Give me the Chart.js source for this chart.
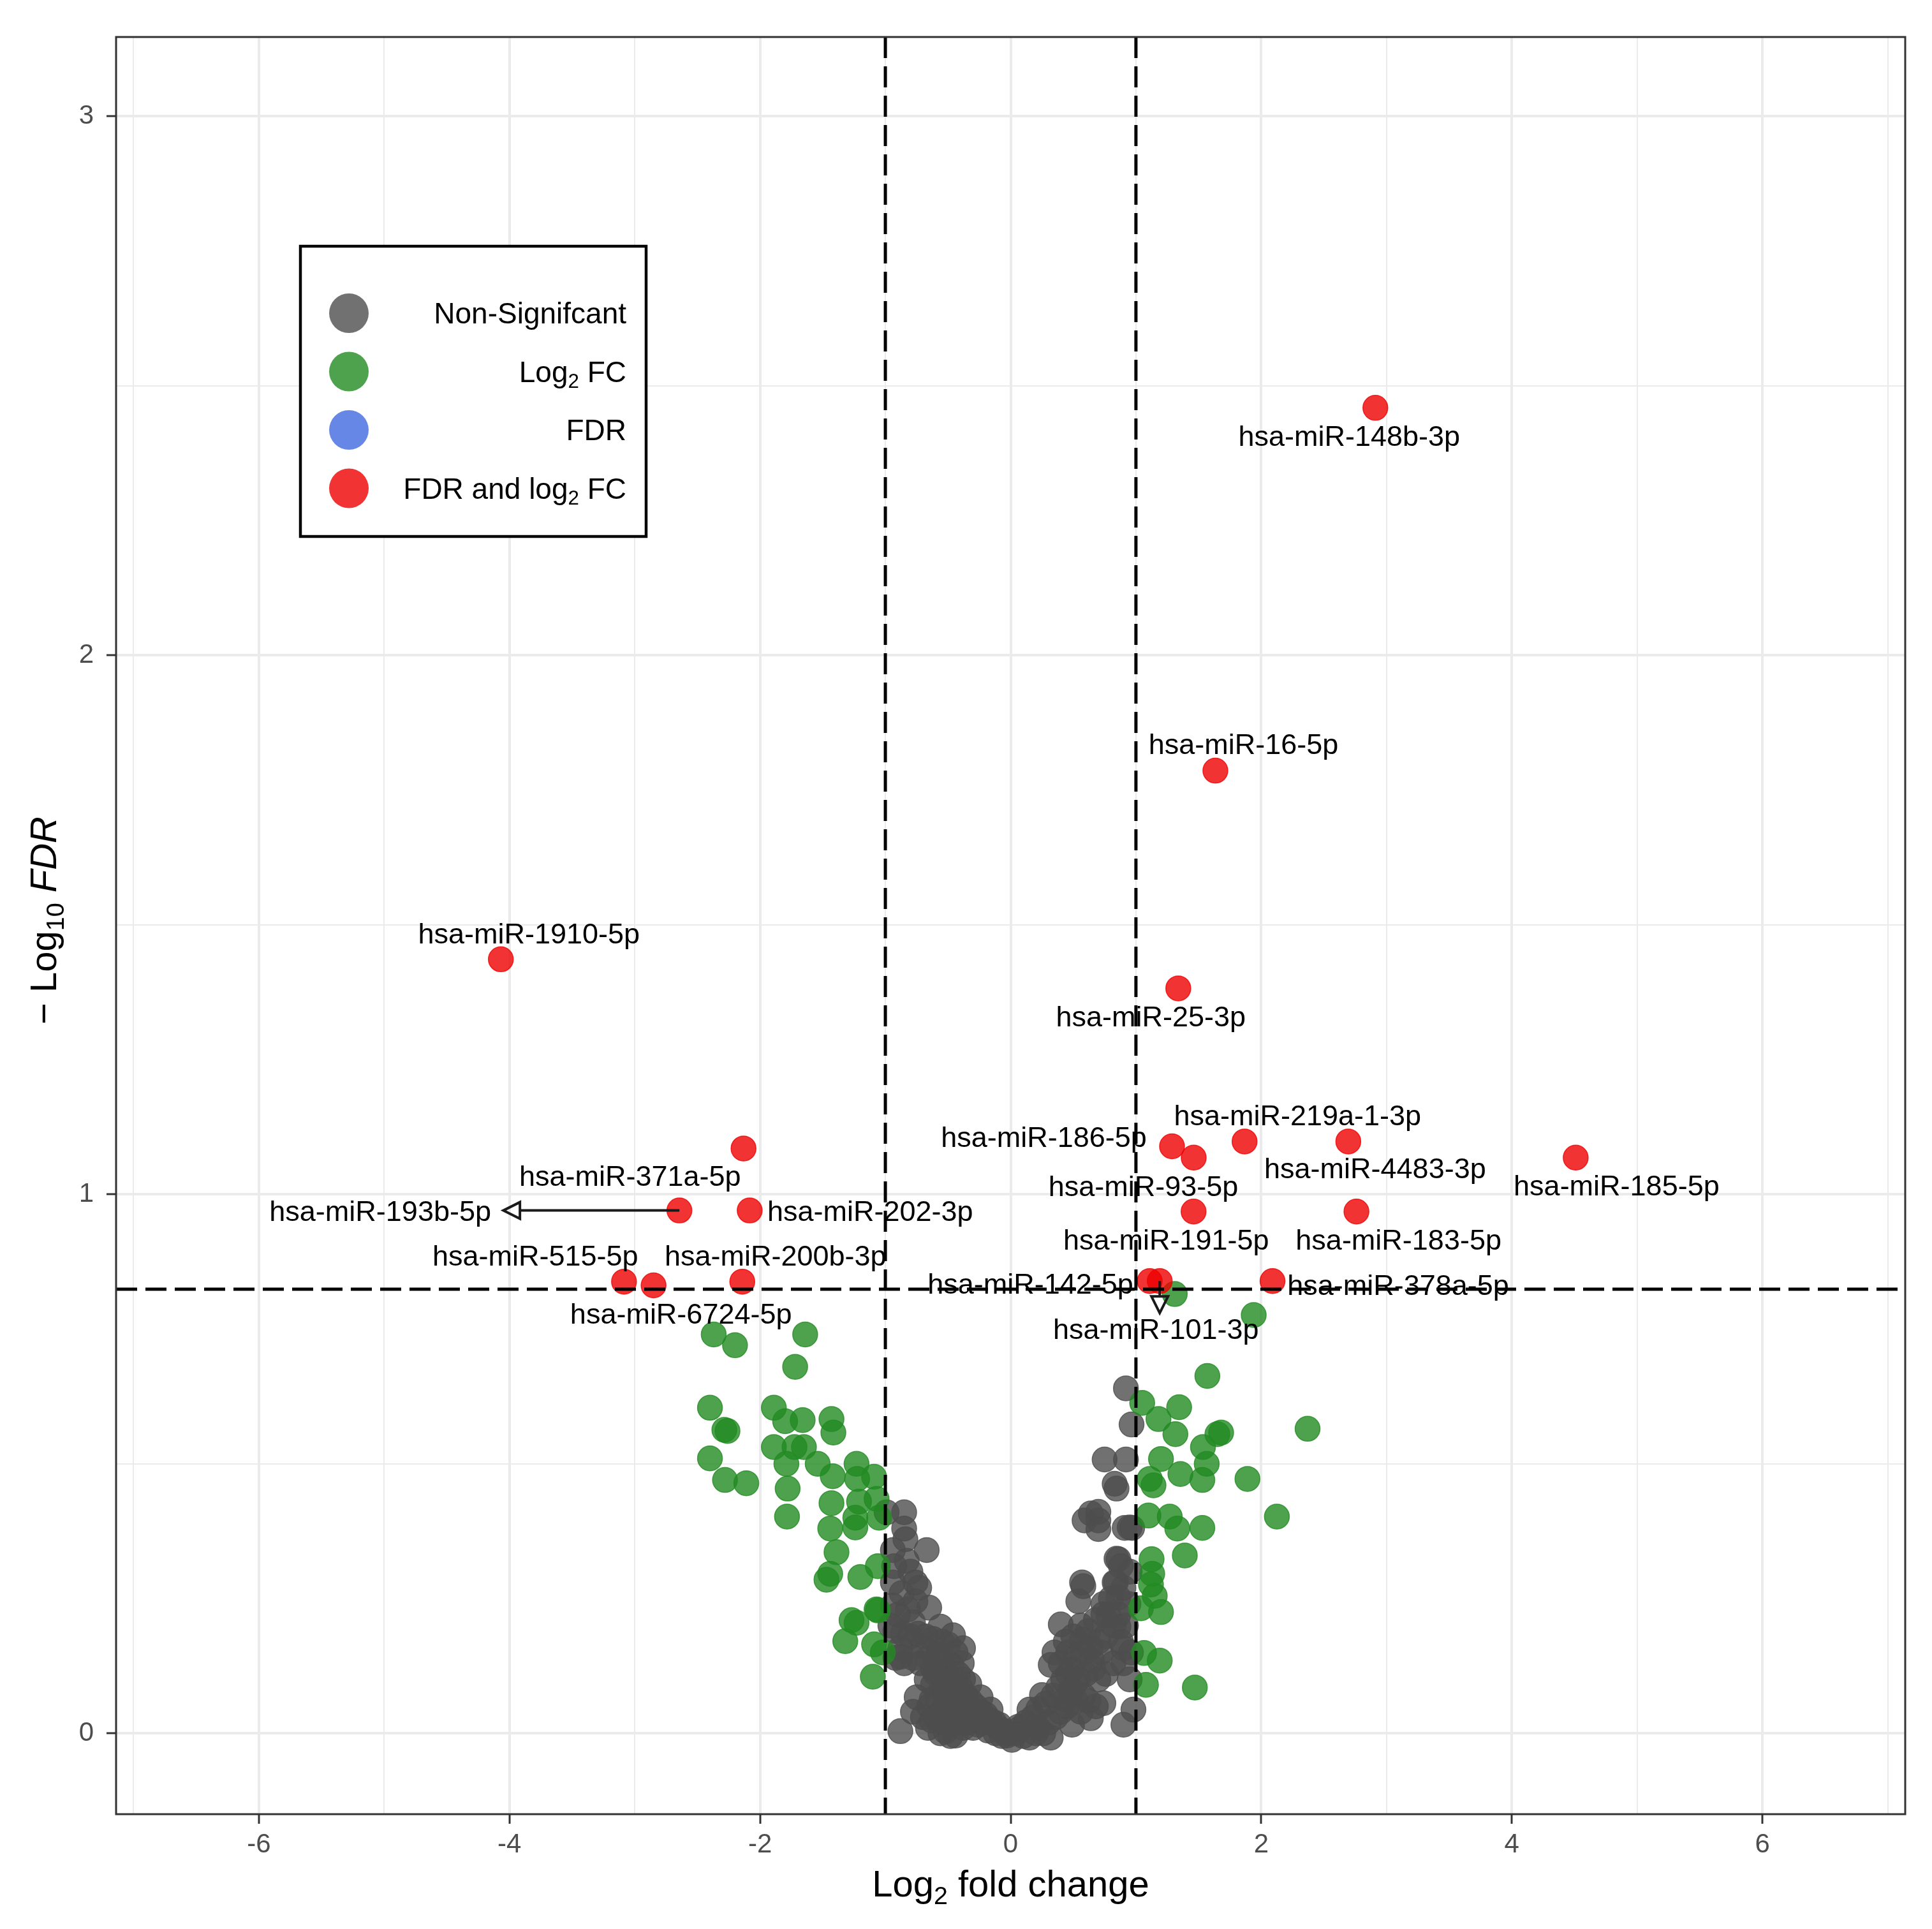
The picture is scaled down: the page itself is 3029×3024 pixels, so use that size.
<!DOCTYPE html>
<html>
<head>
<script src="https://cdn.jsdelivr.net/npm/chart.js"></script>
<style>
  html, body { margin: 0; padding: 0; background: #fff; }
  #wrap { width: 3029px; height: 3024px; }
</style>
</head>
<body>
<div id="wrap"><canvas id="chart" width="3029" height="3024"></canvas></div>
<script>
// ---- data ----
const xGrid = [-7, -6, -5, -4, -3, -2, -1, 0, 1, 2, 3, 4, 5, 6, 7];
const xTickLabels = [-6, -4, -2, 0, 2, 4, 6];
const yGrid = [0, 0.5, 1, 1.5, 2, 2.5, 3];
const yTickLabels = [0, 1, 2, 3];

const fcCut = 1;        // |log2 FC| cutoff
const fdrCut = 0.824;   // -log10(FDR) cutoff

// non-significant [log2FC, -log10 FDR]
const greyPoints = [
  [-0.99,0.41],[-0.85,0.41],[-0.85,0.38],[-0.67,0.34],[-0.94,0.34],[-0.83,0.32],[-0.84,0.36],
  [-0.94,0.28],[-0.73,0.27],[-0.76,0.245],[-0.65,0.233],[-0.94,0.237],[-0.78,0.206],[-0.56,0.198],
  [-0.46,0.182],[-0.38,0.158],[-0.88,0.158],[-0.88,0.142],[-0.70,0.162],[-0.58,0.146],[-0.39,0.13],
  [-0.60,0.111],[-0.48,0.103],[-0.33,0.091],[-0.75,0.067],[-0.78,0.04],[-0.63,0.063],[-0.52,0.056],
  [-0.41,0.063],[-0.24,0.067],[-0.16,0.044],[-0.88,0.004],[-0.52,0.004],[-0.44,-0.004],[-0.26,0.016],
  [-0.09,0.016],[-0.03,-0.004],[-0.63,0.024],[-0.33,0.036],
  [-0.92,0.19],[-0.86,0.185],[-0.80,0.18],[-0.74,0.185],[-0.68,0.18],[-0.62,0.175],[-0.55,0.17],
  [-0.50,0.165],[-0.44,0.15],[-0.92,0.14],[-0.85,0.13],[-0.78,0.14],[-0.72,0.13],[-0.66,0.14],
  [-0.60,0.135],[-0.54,0.13],[-0.47,0.125],[-0.42,0.11],[-0.67,0.10],[-0.62,0.09],[-0.55,0.085],
  [-0.50,0.08],[-0.45,0.075],[-0.40,0.085],[-0.36,0.07],[-0.32,0.06],[-0.28,0.05],[-0.24,0.04],
  [-0.20,0.035],[-0.17,0.025],[-0.13,0.02],[-0.10,0.01],[-0.06,0.005],[-0.02,0.0],[-0.58,0.06],
  [-0.54,0.04],[-0.48,0.03],[-0.42,0.02],[-0.38,0.01],[-0.34,0.02],[-0.30,0.01],[-0.22,0.02],
  [-0.18,0.005],[-0.12,0.0],[-0.07,-0.005],[-0.70,0.03],[-0.66,0.01],[-0.56,0.0],[-0.48,-0.005],
  [-0.96,0.20],[-0.90,0.22],[-0.82,0.23],[-0.87,0.26],[-0.80,0.30],[-0.93,0.31],[-0.76,0.28],
  [-0.65,0.05],[-0.60,0.03],[-0.52,0.02],[-0.45,0.045],[-0.36,0.045],[-0.28,0.03],[-0.62,0.12],
  [-0.56,0.11],[-0.50,0.10],[-0.44,0.095],[-0.38,0.10],[-0.30,0.04],
  [0.92,0.64],[0.965,0.573],[0.75,0.508],[0.92,0.508],[0.83,0.463],[0.64,0.408],[0.70,0.395],
  [0.95,0.382],[0.86,0.323],[0.845,0.454],[0.59,0.395],[0.70,0.411],[0.70,0.379],[0.91,0.381],
  [0.97,0.381],[0.845,0.324],[0.58,0.273],[0.54,0.245],[0.57,0.28],[0.83,0.28],[0.86,0.252],
  [0.95,0.30],[0.40,0.202],[0.74,0.221],[0.86,0.198],[0.57,0.174],[0.35,0.15],[0.32,0.127],
  [0.90,0.158],[0.90,0.13],[0.65,0.135],[0.49,0.119],[0.52,0.095],[0.74,0.056],[0.25,0.071],
  [0.15,0.044],[0.06,0.012],[0.32,-0.008],[0.49,0.016],[0.64,0.028],[0.98,0.044],[0.90,0.016],
  [0.44,0.063],[0.01,-0.012],[0.15,-0.008],
  [0.04,0.0],[0.08,0.01],[0.12,0.02],[0.18,0.03],[0.22,0.045],[0.28,0.055],[0.34,0.07],
  [0.38,0.085],[0.42,0.10],[0.46,0.11],[0.22,0.01],[0.26,0.0],[0.30,0.02],[0.36,0.03],
  [0.40,0.04],[0.45,0.05],[0.52,0.06],[0.58,0.07],[0.62,0.06],[0.68,0.05],
  [0.40,0.13],[0.46,0.15],[0.52,0.14],[0.58,0.15],[0.64,0.16],[0.70,0.17],[0.76,0.18],
  [0.82,0.20],[0.86,0.22],[0.44,0.17],[0.50,0.18],[0.56,0.20],[0.62,0.19],[0.68,0.21],
  [0.74,0.24],[0.80,0.25],[0.84,0.28],[0.78,0.22],[0.72,0.15],[0.66,0.12],[0.60,0.11],
  [0.54,0.10],[0.70,0.10],[0.76,0.11],[0.82,0.13],[0.88,0.17],[0.92,0.20],[0.94,0.24],
  [0.90,0.27],[0.88,0.31],[0.56,0.04],[0.48,0.08],[0.10,-0.005],[0.20,0.0],[0.95,0.10],[0.96,0.15]
];

// |log2FC| > 1 only
const greenPoints = [
  [-2.37,0.74],[-2.20,0.72],[-1.64,0.74],[-1.72,0.68],[-2.40,0.604],[-2.285,0.563],[-2.26,0.561],
  [-1.89,0.604],[-1.80,0.579],[-1.66,0.581],[-1.43,0.583],[-1.415,0.558],[-2.40,0.51],[-2.28,0.47],
  [-2.11,0.464],[-1.89,0.531],[-1.725,0.531],[-1.65,0.531],[-1.79,0.50],[-1.78,0.454],[-1.785,0.402],
  [-1.54,0.50],[-1.42,0.477],[-1.23,0.50],[-1.225,0.472],[-1.09,0.476],[-1.43,0.427],[-1.21,0.43],
  [-1.07,0.435],[-1.24,0.40],[-1.05,0.40],[-1.24,0.382],[-1.44,0.38],[-1.39,0.336],[-1.44,0.296],
  [-1.47,0.285],[-1.20,0.29],[-1.06,0.31],[-1.06,0.228],[-1.23,0.205],[-1.32,0.171],[-1.09,0.165],
  [-1.10,0.105],[-1.02,0.15],[-1.27,0.21],[-1.07,0.23],
  [1.94,0.776],[1.57,0.663],[1.05,0.613],[1.345,0.605],[1.18,0.583],[1.315,0.555],[1.68,0.558],
  [1.535,0.531],[2.37,0.565],[1.20,0.509],[1.565,0.50],[1.11,0.472],[1.355,0.481],[1.53,0.47],
  [1.89,0.472],[1.10,0.404],[1.27,0.402],[1.33,0.38],[1.53,0.381],[2.125,0.402],[1.39,0.33],
  [1.125,0.323],[1.13,0.296],[1.15,0.255],[1.04,0.232],[1.20,0.225],[1.065,0.149],[1.19,0.135],
  [1.08,0.09],[1.47,0.085],[1.31,0.815],[1.12,0.276],[1.65,0.555],[1.14,0.46]
];
const bluePoints = [];

// FDR and log2 FC
const redNames = [
  'hsa-miR-148b-3p', 'hsa-miR-16-5p', 'hsa-miR-1910-5p', 'hsa-miR-25-3p', 'hsa-miR-219a-1-3p',
  'hsa-miR-4483-3p', 'hsa-miR-186-5p', 'hsa-miR-93-5p', 'hsa-miR-185-5p', 'hsa-miR-371a-5p',
  'hsa-miR-193b-5p', 'hsa-miR-202-3p', 'hsa-miR-191-5p', 'hsa-miR-183-5p', 'hsa-miR-515-5p',
  'hsa-miR-6724-5p', 'hsa-miR-200b-3p', 'hsa-miR-142-5p', 'hsa-miR-101-3p', 'hsa-miR-378a-5p'
];
const redFC = [2.911, 1.634, -4.069, 1.338, 1.867, 2.695, 1.288, 1.461, 4.51, -2.132,
               -2.644, -2.083, 1.46, 2.76, -3.086, -2.85, -2.142, 1.11, 1.19, 2.09];
const redFDR = [2.459, 1.786, 1.436, 1.382, 1.098, 1.098, 1.089, 1.068, 1.068, 1.085,
                0.970, 0.970, 0.968, 0.968, 0.838, 0.831, 0.838, 0.839, 0.839, 0.839];

// label placement (pixel offsets from the point) and arrow tips
const labelOffsets = [
  [-41, 44], [44, -42], [44, -41], [-43, 44], [83, -41],
  [42, 42], [-201, -15], [-79, 44], [64, 43], [-178, 43],
  [-469, 0], [189, 0], [-43, 44], [66, 44], [-139, -41],
  [43, 44], [52, -41], [-187, 4], [-6, 75], [197, 6]
];
const arrowTips = { 10: [-276, 0], 18: [0, 50] };

const colGrey = 'rgba(77,77,77,0.8)';
const colGreen = 'rgba(34,139,34,0.8)';
const colBlue = 'rgba(65,105,225,0.8)';
const colRed = 'rgba(238,0,0,0.8)';
const FONT = '"Liberation Sans", Arial, Helvetica, sans-serif';

const toXY = pts => pts.map(p => ({ x: p[0], y: p[1] }));

// draw text made of segments (normal / subscript / italic)
function richWidth(ctx, segs, size) {
  let w = 0;
  segs.forEach(s => {
    const fs = s.sub ? size * 0.68 : size;
    ctx.font = (s.italic ? 'italic ' : '') + fs + 'px ' + FONT;
    w += ctx.measureText(s.t).width;
  });
  return w;
}
function drawRich(ctx, segs, x, y, size) {
  let cx = x;
  segs.forEach(s => {
    const fs = s.sub ? size * 0.68 : size;
    ctx.font = (s.italic ? 'italic ' : '') + fs + 'px ' + FONT;
    ctx.fillText(s.t, cx, s.sub ? y + size * 0.2 : y);
    cx += ctx.measureText(s.t).width;
  });
}

const legendItems = [
  { col: colGrey, segs: [{ t: 'Non-Signifcant' }] },
  { col: colGreen, segs: [{ t: 'Log' }, { t: '2', sub: true }, { t: ' FC' }] },
  { col: colBlue, segs: [{ t: 'FDR' }] },
  { col: colRed, segs: [{ t: 'FDR and log' }, { t: '2', sub: true }, { t: ' FC' }] }
];

const decor = {
  id: 'decor',
  afterDatasetsDraw(chart) {
    const { ctx, scales: { x, y }, chartArea: a } = chart;
    ctx.save();
    // point labels
    ctx.font = '45px ' + FONT;
    ctx.fillStyle = '#000';
    ctx.textAlign = 'center';
    ctx.textBaseline = 'alphabetic';
    redNames.forEach((name, i) => {
      const px = x.getPixelForValue(redFC[i]);
      const py = y.getPixelForValue(redFDR[i]);
      ctx.fillText(name, px + labelOffsets[i][0], py + labelOffsets[i][1] + 16);
    });
    // connectors with open arrow heads
    ctx.strokeStyle = '#1a1a1a';
    ctx.lineWidth = 4;
    Object.keys(arrowTips).forEach(k => {
      const i = +k;
      const px = x.getPixelForValue(redFC[i]);
      const py = y.getPixelForValue(redFDR[i]);
      const tx = px + arrowTips[k][0], ty = py + arrowTips[k][1];
      const len = Math.hypot(tx - px, ty - py);
      const ux = (tx - px) / len, uy = (ty - py) / len;
      const bx = tx - ux * 26, by = ty - uy * 26;
      ctx.beginPath();
      ctx.moveTo(px, py);
      ctx.lineTo(bx, by);
      ctx.stroke();
      ctx.beginPath();
      ctx.moveTo(tx, ty);
      ctx.lineTo(bx - uy * 13, by + ux * 13);
      ctx.lineTo(bx + uy * 13, by - ux * 13);
      ctx.closePath();
      ctx.stroke();
    });
    // cutoff lines
    ctx.strokeStyle = '#000';
    ctx.lineWidth = 5;
    ctx.setLineDash([33, 13]);
    [-fcCut, fcCut].forEach(v => {
      const px = x.getPixelForValue(v);
      ctx.beginPath();
      ctx.moveTo(px, a.top);
      ctx.lineTo(px, a.bottom);
      ctx.stroke();
    });
    const hy = y.getPixelForValue(fdrCut);
    ctx.beginPath();
    ctx.moveTo(a.left, hy);
    ctx.lineTo(a.right, hy);
    ctx.stroke();
    ctx.restore();
  },
  afterDraw(chart) {
    const { ctx, chartArea: a } = chart;
    ctx.save();
    // panel border
    ctx.strokeStyle = '#333';
    ctx.lineWidth = 3;
    ctx.strokeRect(a.left, a.top, a.right - a.left, a.bottom - a.top);

    // legend box
    ctx.fillStyle = '#fff';
    ctx.fillRect(471, 386, 542, 455);
    ctx.strokeStyle = '#000';
    ctx.lineWidth = 4.5;
    ctx.strokeRect(471, 386, 542, 455);
    ctx.textAlign = 'left';
    ctx.textBaseline = 'alphabetic';
    legendItems.forEach((it, i) => {
      const cy = 491 + i * 91.5;
      ctx.fillStyle = it.col;
      ctx.beginPath();
      ctx.arc(547, cy, 31, 0, Math.PI * 2);
      ctx.fill();
      ctx.fillStyle = '#000';
      const w = richWidth(ctx, it.segs, 46);
      drawRich(ctx, it.segs, 982 - w, cy + 16, 46);
    });

    // axis titles
    ctx.fillStyle = '#000';
    const xt = [{ t: 'Log' }, { t: '2', sub: true }, { t: ' fold change' }];
    const xw = richWidth(ctx, xt, 58);
    drawRich(ctx, xt, (a.left + a.right) / 2 - xw / 2, 2973, 58);

    const yt = [{ t: '\u2212 Log' }, { t: '10', sub: true }, { t: ' ' }, { t: 'FDR', italic: true }];
    const yw = richWidth(ctx, yt, 58);
    ctx.translate(88, (a.top + a.bottom) / 2 - 8);
    ctx.rotate(-Math.PI / 2);
    drawRich(ctx, yt, -yw / 2, 0, 58);
    ctx.restore();
  }
};

const isMajorX = v => xTickLabels.includes(v);
const isMajorY = v => yTickLabels.includes(v);

new Chart(document.getElementById('chart').getContext('2d'), {
  type: 'scatter',
  data: {
    datasets: [
      { label: 'Non-Signifcant', data: toXY(greyPoints), backgroundColor: colGrey, borderColor: colGrey, order: 4 },
      { label: 'Log2 FC', data: toXY(greenPoints), backgroundColor: colGreen, borderColor: colGreen, order: 3 },
      { label: 'FDR', data: toXY(bluePoints), backgroundColor: colBlue, borderColor: colBlue, order: 2 },
      { label: 'FDR and log2 FC', data: redFC.map((v, i) => ({ x: v, y: redFDR[i] })), backgroundColor: colRed, borderColor: colRed, order: 1 }
    ]
  },
  options: {
    responsive: false,
    devicePixelRatio: 1,
    animation: false,
    events: [],
    elements: { point: { radius: 19.5, borderWidth: 1.5, hoverRadius: 19.5 } },
    layout: { padding: { top: 58, right: 42, left: 0, bottom: 0 } },
    plugins: { legend: { display: false }, tooltip: { enabled: false } },
    scales: {
      x: {
        type: 'linear',
        min: -7.14,
        max: 7.14,
        afterBuildTicks: s => { s.ticks = xGrid.map(v => ({ value: v })); },
        afterFit: s => { s.height = 180; },
        border: { display: false },
        grid: {
          color: '#EBEBEB',
          lineWidth: c => (isMajorX(c.tick.value) ? 4 : 2),
          tickLength: 15,
          tickWidth: 3,
          tickColor: c => (isMajorX(c.tick.value) ? '#333' : 'rgba(0,0,0,0)')
        },
        ticks: {
          autoSkip: false,
          maxRotation: 0,
          padding: 8,
          color: '#4D4D4D',
          font: { family: FONT, size: 42 },
          callback: v => (isMajorX(v) ? String(v) : '')
        }
      },
      y: {
        type: 'linear',
        min: -0.15,
        max: 3.147,
        afterBuildTicks: s => { s.ticks = yGrid.map(v => ({ value: v })); },
        afterFit: s => { s.width = 182; },
        border: { display: false },
        grid: {
          color: '#EBEBEB',
          lineWidth: c => (isMajorY(c.tick.value) ? 4 : 2),
          tickLength: 15,
          tickWidth: 3,
          tickColor: c => (isMajorY(c.tick.value) ? '#333' : 'rgba(0,0,0,0)')
        },
        ticks: {
          autoSkip: false,
          padding: 20,
          color: '#4D4D4D',
          font: { family: FONT, size: 42 },
          callback: v => (isMajorY(v) ? String(v) : '')
        }
      }
    }
  },
  plugins: [decor]
});
</script>
</body>
</html>
